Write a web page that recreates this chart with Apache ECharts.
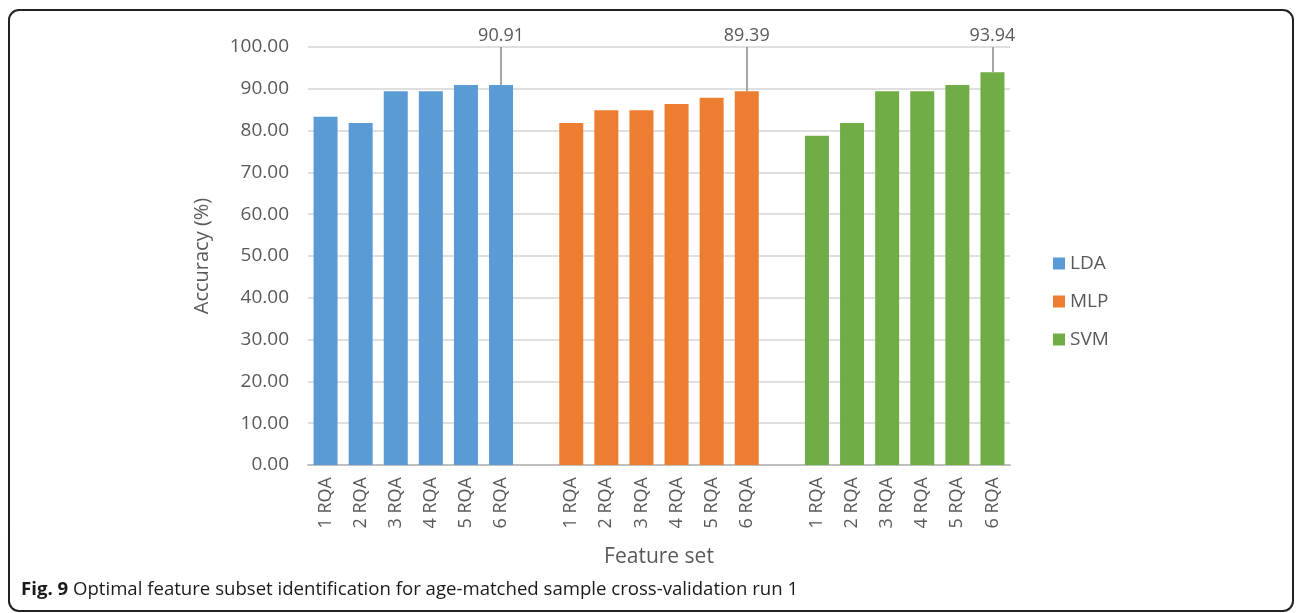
<!DOCTYPE html>
<html>
<head>
<meta charset="utf-8">
<script src="https://cdn.jsdelivr.net/npm/echarts@6/dist/echarts.min.js"></script>
<style>
  html, body { margin: 0; padding: 0; background: #fff; }
  #main { width: 1296px; height: 613px; }
</style>
</head>
<body>
<div id="main"></div>
<script>
// feature subsets per classifier
var featureSets = ['1 RQA', '2 RQA', '3 RQA', '4 RQA', '5 RQA', '6 RQA'];
var ldaAcc = [83.33, 81.82, 89.39, 89.39, 90.91, 90.91];
var mlpAcc = [81.82, 84.85, 84.85, 86.36, 87.88, 89.39];
var svmAcc = [78.79, 81.82, 89.39, 89.39, 90.91, 93.94];
var yTicks = [0, 10, 20, 30, 40, 50, 60, 70, 80, 90, 100];

var groups = [
  { name: 'LDA', data: ldaAcc, color: '#5b9bd5' },
  { name: 'MLP', data: mlpAcc, color: '#ed7d31' },
  { name: 'SVM', data: svmAcc, color: '#70ad47' }
];

// category axis: three groups with an empty slot between them
var cats = [];
groups.forEach(function (g, gi) {
  if (gi > 0) cats.push('');
  featureSets.forEach(function (f) { cats.push(f); });
});

var font = '"Open Sans", "Noto Sans", sans-serif';
var grey = '#595959';

var series = groups.map(function (g, gi) {
  var offset = gi * (featureSets.length + 1);
  var full = cats.map(function () { return '-'; });
  g.data.forEach(function (v, i) { full[offset + i] = v; });
  var last = offset + g.data.length - 1;
  var lastVal = g.data[g.data.length - 1];
  return {
    name: g.name,
    type: 'bar',
    data: full,
    barWidth: 24,
    barGap: '-100%',
    itemStyle: { color: g.color },
    markLine: {
      silent: true,
      symbol: 'none',
      animation: false,
      lineStyle: { color: '#a6a6a6', width: 2, type: 'solid' },
      label: {
        position: 'end',
        distance: 2,
        formatter: lastVal.toFixed(2),
        color: grey,
        fontSize: 18,
        fontFamily: font
      },
      data: [[{ coord: [last, lastVal] }, { coord: [last, yTicks[yTicks.length - 1]] }]]
    }
  };
});

var chart = echarts.init(document.getElementById('main'));
chart.setOption({
  animation: false,
  backgroundColor: '#fff',
  textStyle: { fontFamily: font },
  title: {
    left: 16,
    top: 575,
    text: '{b|Fig. 9} Optimal feature subset identification for age-matched sample cross-validation run 1',
    textStyle: {
      fontSize: 18.6,
      fontWeight: 'normal',
      color: '#1a1a1a',
      fontFamily: font,
      rich: { b: { fontWeight: 'bold', fontSize: 18.6, color: '#1a1a1a', fontFamily: font } }
    }
  },
  graphic: [{
    type: 'rect',
    shape: { x: 9, y: 10, width: 1284, height: 601, r: 10 },
    style: { fill: 'none', stroke: '#222', lineWidth: 2 },
    silent: true
  }],
  legend: {
    orient: 'vertical',
    left: 1048,
    top: 249,
    itemWidth: 12,
    itemHeight: 12,
    itemGap: 19,
    icon: 'rect',
    textStyle: { fontSize: 19, color: grey, fontFamily: font },
    data: groups.map(function (g) { return g.name; })
  },
  grid: { left: 308, right: 286, top: 47, bottom: 148 },
  xAxis: {
    type: 'category',
    data: cats,
    name: 'Feature set',
    nameLocation: 'middle',
    nameGap: 82,
    nameTextStyle: { fontSize: 21, color: grey, fontFamily: font },
    axisLine: { lineStyle: { color: '#bfbfbf', width: 2 } },
    axisTick: { show: false },
    axisLabel: { rotate: 90, fontSize: 18, color: grey, margin: 12, interval: 0, fontFamily: font }
  },
  yAxis: {
    type: 'value',
    min: yTicks[0],
    max: yTicks[yTicks.length - 1],
    interval: 10,
    name: 'Accuracy (%)',
    nameLocation: 'middle',
    nameGap: 96,
    nameTextStyle: { fontSize: 20, color: grey, fontFamily: font },
    axisLine: { show: false },
    axisTick: { show: false },
    splitLine: { lineStyle: { color: '#d4d4d4', width: 1.5 } },
    axisLabel: {
      fontSize: 19, color: grey, margin: 19, fontFamily: font,
      formatter: function (v) { return v.toFixed(2); }
    }
  },
  series: series
});
</script>
</body>
</html>
